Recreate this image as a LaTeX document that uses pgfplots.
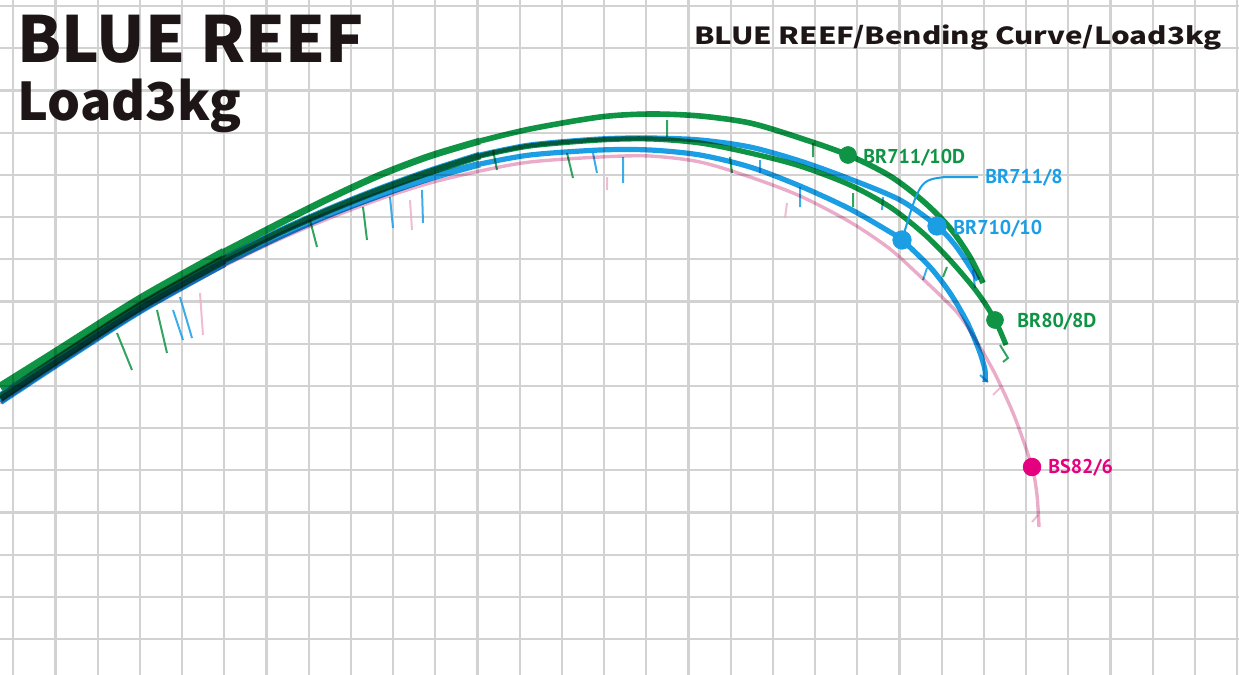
\documentclass[border=0pt]{standalone}
\usepackage{fontspec}
\usepackage{graphicx}
\usepackage{pgfplots}
\pgfplotsset{compat=1.18}
\newfontfamily\jp{Noto Sans CJK JP}
\newfontfamily\lab{PT Sans}
\definecolor{rgreen}{RGB}{14,148,68}
\definecolor{rblue}{RGB}{28,158,228}
\definecolor{rmag}{RGB}{228,0,127}
\definecolor{rpinkline}{RGB}{234,172,200}
\definecolor{gridc}{RGB}{210,210,210}
\definecolor{titlec}{RGB}{30,22,22}
\pgfplotsset{
  butt/.style={line width=4.2pt, smooth, blend mode=multiply},
  midp/.style={line width=3.4pt, smooth, blend mode=multiply},
  tipp/.style={line width=2.6pt, smooth, blend mode=multiply}}
\begin{document}
\begin{tikzpicture}
\begin{axis}[name=ax, at={(0,0)}, anchor=south west, scale only axis,
  width=619.5pt, height=337.5pt,
  xmin=0, xmax=1239, ymin=0, ymax=675, y dir=reverse,
  axis line style={draw=none},
  xtick={13.3,55.5,...,1240}, ytick={6,48.2,...,680},
  xticklabels={}, yticklabels={}, major tick length=0pt,
  grid=major, major grid style={gridc, line width=1.1pt},
  clip=false, unbounded coords=jump]
% guides (small line segments)
\addplot[rpinkline, line width=1pt, opacity=0.8] coordinates {
(200,293)(203,335)(0,nan)(410,200)(412,230)(0,nan)(607,177)(607,190)(0,nan)(787,203)(785,218)(0,nan)(1000,388)(993,395)(0,nan)(1038,515)(1032,522)};
\addplot[rblue, line width=1pt, opacity=0.85] coordinates {
(173,310)(183,340)(0,nan)(180,297)(192,338)(0,nan)(390,197)(393,228)(0,nan)(422,190)(423,223)(0,nan)(593,153)(597,173)(0,nan)(623,157)(623,183)(0,nan)(760,160)(760,173)(0,nan)(800,187)(800,207)(0,nan)(883,197)(882,210)(0,nan)(927,268)(923,280)(0,nan)(973,270)(975,288)(0,nan)(980,375)(988,382)};
\addplot[rgreen, line width=1pt, opacity=0.85] coordinates {
(117,333)(132,370)(0,nan)(157,310)(167,353)(0,nan)(310,220)(317,247)(0,nan)(363,207)(367,240)(0,nan)(493,150)(497,170)(0,nan)(567,153)(573,178)(0,nan)(667,120)(667,137)(0,nan)(730,157)(732,173)(0,nan)(813,143)(813,157)(0,nan)(853,193)(853,207)(0,nan)(947,267)(943,277)(0,nan)(1000,345)(1008,358)(1003,362)};
% BS82/6
\addplot[rpinkline, line width=1.7pt, smooth, blend mode=multiply] coordinates {
(0,403)(56,366)(140,312)(224,266)(280,239)(330,218)(380,199)(430,183)(480,171)(530,162)(600,157)(650,156)(700,162)(750,177)(800,196)(850,222)(890,249)(923,279)(945,300)(960,316)(977,342)(993,370)(1006,397)(1017,423)(1032,467)(1037,495)(1039,527)};
% BR711/8
\addplot[rblue, butt] coordinates {(0,401)(56,364)(140,310)(224,263)};
\addplot[rblue, midp] coordinates {(224,263)(280,236)(330,214)(380,195)(430,178)(480,164)};
\addplot[rblue, tipp] coordinates {
(480,164)(530,155)(600,150)(650,150)(700,155)(750,167)(800,186)(850,209)(890,232)(902,240)(930,267)(950,293)(967,322)(979,350)(985,370)(985,382)};
% BR710/10
\addplot[rblue, butt] coordinates {(0,397)(56,360)(140,306)(224,259)};
\addplot[rblue, midp] coordinates {(224,259)(280,231)(330,209)(380,189)(430,171)(480,155)};
\addplot[rblue, tipp] coordinates {
(480,155)(530,145)(600,139)(650,138)(700,140)(750,147)(800,161)(850,179)(900,200)(937,226)(955,245)(970,267)(978,280)};
% BR80/8D
\addplot[rgreen, butt] coordinates {(0,398)(56,361)(140,307)(224,260)};
\addplot[rgreen, midp] coordinates {(224,260)(280,232)(330,210)(380,190)(430,172)(480,156)};
\addplot[rgreen, tipp] coordinates {
(480,156)(530,146)(600,140)(650,139)(700,143)(750,153)(800,166)(850,185)(890,207)(923,233)(950,260)(977,292)(995,320)(1006,345)};
% BR711/10D
\addplot[rgreen, butt] coordinates {(0,387)(56,352)(140,299)(224,252)};
\addplot[rgreen, midp] coordinates {(224,252)(280,223)(330,198)(380,175)(430,156)(480,141)};
\addplot[rgreen, tipp, line width=2.8pt] coordinates {
(480,141)(530,129)(600,117)(650,114)(700,116)(750,123)(800,138)(848,155)(890,176)(923,201)(950,228)(970,257)(983,283)};
% markers
\addplot[only marks, mark=*, mark size=4.2pt, rgreen, mark options={draw=none}] coordinates {(848,155)(995,320)};
\addplot[only marks, mark=*, mark size=4.6pt, rblue, mark options={draw=none}] coordinates {(937,226)(902,240)};
\addplot[only marks, mark=*, mark size=4.4pt, rmag, mark options={draw=none}] coordinates {(1032,467)};
% callout
\draw[rblue, line width=1pt] (axis cs:902,240) .. controls (axis cs:920,180) .. (axis cs:945,177) -- (axis cs:978,177);
% labels
\node[anchor=base west, inner sep=0, rgreen, font=\lab\bfseries\fontsize{10}{12}\selectfont] at (axis cs:863,163) {BR711/10D};
\node[anchor=base west, inner sep=0, rblue, font=\lab\bfseries\fontsize{10}{12}\selectfont] at (axis cs:985,183) {BR711/8};
\node[anchor=base west, inner sep=0, rblue, font=\lab\bfseries\fontsize{10}{12}\selectfont] at (axis cs:953,234) {BR710/10};
\node[anchor=base west, inner sep=0, rgreen, font=\lab\bfseries\fontsize{10}{12}\selectfont] at (axis cs:1017,327) {BR80/8D};
\node[anchor=base west, inner sep=0, rmag, font=\lab\bfseries\fontsize{10}{12}\selectfont] at (axis cs:1048,473) {BS82/6};
% titles
\node[anchor=base west, inner sep=0, titlec, font=\jp\bfseries\fontsize{31.8}{34}\selectfont] at (axis cs:17,62) {BLUE REEF};
\node[anchor=base west, inner sep=0, titlec, font=\jp\bfseries\fontsize{26}{28}\selectfont] at (axis cs:17,120) {Load3kg};
\node[anchor=base east, inner sep=0, titlec, font=\jp\bfseries\fontsize{11.8}{14}\selectfont] at (axis cs:1222,44) {\scalebox{1.25}[1]{BLUE REEF/Bending Curve/Load3kg}};
\end{axis}
\pgfresetboundingbox
\path (ax.south west) rectangle (ax.north east);
\end{tikzpicture}
\end{document}
